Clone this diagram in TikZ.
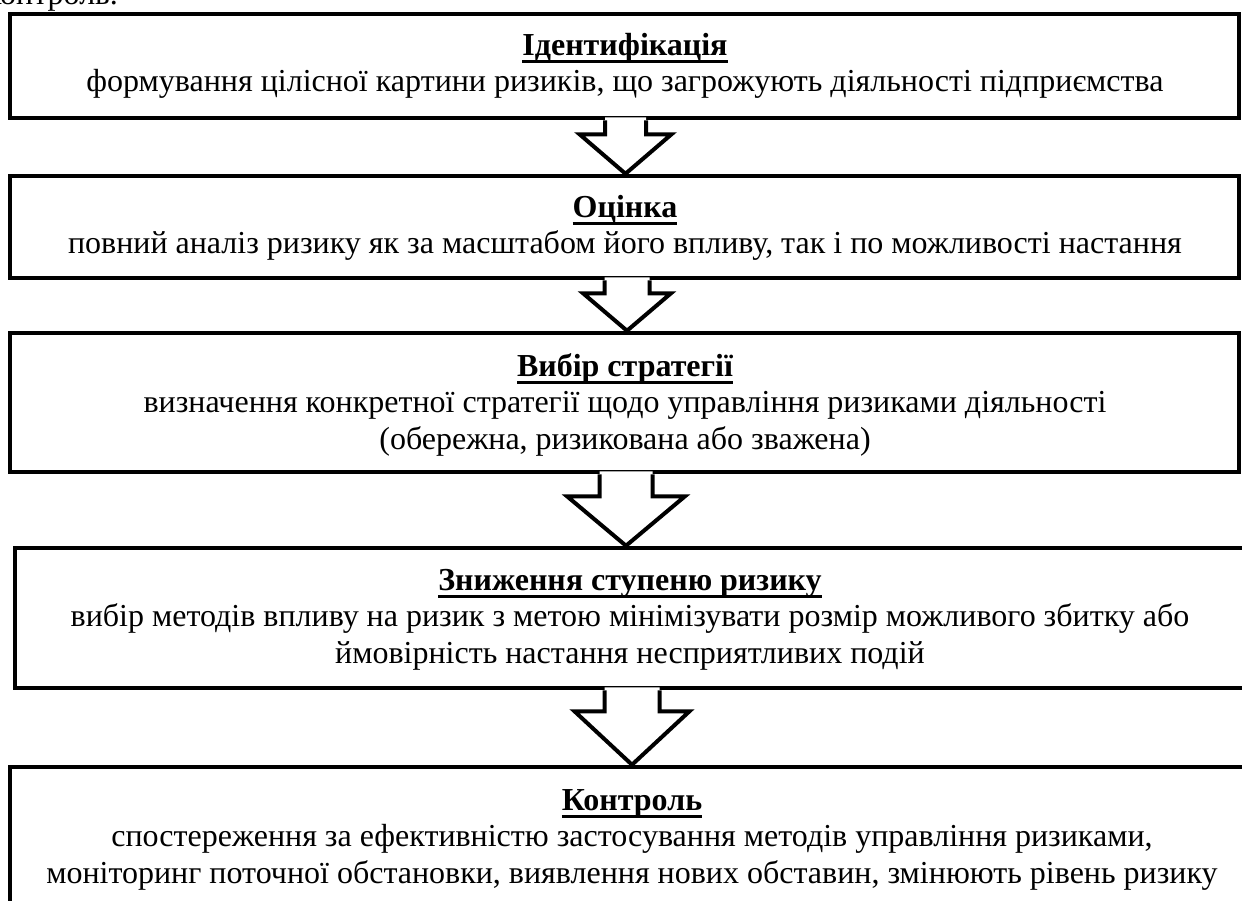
\documentclass[tikz,border=0pt]{standalone}
\usepackage{fontspec}
\setmainfont{Liberation Serif}
\usetikzlibrary{calc}

% bold title with a flat underline drawn under the whole word group
\newcommand\titleline[1]{\strut\setbox0=\hbox{\bfseries #1}\rlap{\rule[-7.5pt]{\wd0}{2.8pt}}\box0}

% hollow block arrow between two stacked boxes:
% #1 axis coordinate, #2 upper box, #3 lower box, #4 stem half width,
% #5 head half width, #6 stem length
\newcommand\flowarrow[6]{%
  \fill[white]
    ($(#1 |- #2.south)+(-#4,-3)$) -- ($(#1 |- #2.south)+(-#4,#6)$)
    -- ($(#1 |- #2.south)+(-#5,#6)$) -- (#1 |- #3.north)
    -- ($(#1 |- #2.south)+(#5,#6)$) -- ($(#1 |- #2.south)+(#4,#6)$)
    -- ($(#1 |- #2.south)+(#4,-3)$) -- cycle;
  \draw[arrowline]
    ($(#1 |- #2.south)+(-#4,0)$) -- ($(#1 |- #2.south)+(-#4,#6)$)
    -- ($(#1 |- #2.south)+(-#5,#6)$) -- (#1 |- #3.north)
    -- ($(#1 |- #2.south)+(#5,#6)$) -- ($(#1 |- #2.south)+(#4,#6)$)
    -- ($(#1 |- #2.south)+(#4,0)$);
}

\begin{document}
\begin{tikzpicture}[x=1pt,y=-1pt,
  stagebox/.style={draw, line width=4.5pt, rectangle, inner sep=0pt, fill=white},
  arrowline/.style={draw, line width=4pt, line join=miter, miter limit=10},
  txt/.style={align=center, inner sep=0pt, anchor=north,
    font={\fontsize{32}{36.8}\selectfont}}]

\useasboundingbox (0,0) rectangle (1242,900);
\fill[white] (0,0) rectangle (1242,900);
\clip (0,0) rectangle (1242,900);

% tail of the preceding sentence
\node[font={\fontsize{32}{36.8}\selectfont}, inner sep=0pt, anchor=base east] (prev) at (118,4) {контроль.};

% stage boxes
\node[stagebox, minimum width=1229pt, minimum height=104pt] (b1) at (624.5,66) {};
\node[stagebox, minimum width=1229pt, minimum height=102pt] (b2) at (624.5,227) {};
\node[stagebox, minimum width=1229pt, minimum height=139pt] (b3) at (624.5,402.5) {};
\node[stagebox, minimum width=1230pt, minimum height=140pt] (b4) at (630,618) {};
\node[stagebox, minimum width=1244pt, minimum height=150pt] (b5) at (632,842) {};

% stage texts (node top = first baseline minus strut height)
\node[txt] (t1) at (625,29.2) {\titleline{Ідентифікація}\\
  формування цілісної картини ризиків, що загрожують діяльності підприємства};
\node[txt] (t2) at (625,191.2) {\titleline{Оцінка}\\
  повний аналіз ризику як за масштабом його впливу, так і по можливості настання};
\node[txt] (t3) at (625,350.2) {\titleline{Вибір стратегії}\\
  визначення конкретної стратегії щодо управління ризиками діяльності\\
  (обережна, ризикована або зважена)};
\node[txt] (t4) at (630,564.2) {\titleline{Зниження ступеню ризику}\\
  вибір методів впливу на ризик з метою мінімізувати розмір можливого збитку або\\
  ймовірність настання несприятливих подій};
\node[txt] (t5) at (632,784.2) {\titleline{Контроль}\\
  спостереження за ефективністю застосування методів управління ризиками,\\
  моніторинг поточної обстановки, виявлення нових обставин, змінюють рівень ризику};

% arrow axes
\coordinate (x1) at (625.5,0);
\coordinate (x2) at (627,0);
\coordinate (x3) at (626,0);
\coordinate (x4) at (632,0);

% block arrows between the stages
\flowarrow{x1}{b1}{b2}{20.5}{46}{14}
\flowarrow{x2}{b2}{b3}{22.5}{44}{13}
\flowarrow{x3}{b3}{b4}{26.5}{59}{22}
\flowarrow{x4}{b4}{b5}{27.5}{57.5}{21}

\end{tikzpicture}
\end{document}
